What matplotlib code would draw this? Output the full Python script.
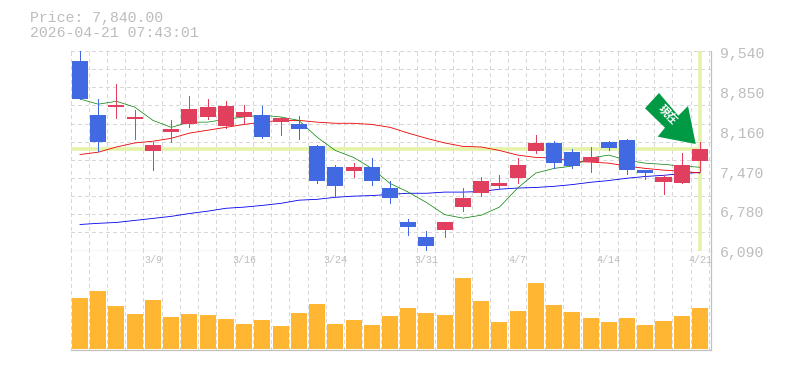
import matplotlib
matplotlib.use("Agg")
import matplotlib.pyplot as plt
from matplotlib.patches import Polygon, Rectangle

plt.rcParams['font.family'] = ['Liberation Mono', 'DejaVu Sans Mono']

W, H = 785, 370
GRAY = '#c0c0c0'
TXT = '#bdbdbd'
GRID = '#d8d8d8'
UP = '#e0405e'
DOWN = '#4169e1'
VOLC = '#ffb733'
HL = '#e4f3a8'
PX = 0.72

current_price = 7840
stamp = '2026-04-21 07:43:01'
opens = [9370, 8430, 8570, 8360, 7810, 8140, 8270, 8400, 8240, 8400, 8430, 8310, 8270, 7890, 7530, 7460, 7530, 7170,
         6590, 6320, 6450, 6850, 7080, 7200, 7340, 7810, 7950, 7790, 7620, 7960, 8000, 7490, 7270, 7250, 7630]
closes = [8710, 7970, 8600, 8400, 7910, 8190, 8530, 8570, 8590, 8480, 8050, 8380, 8190, 7290, 7200, 7530, 7300, 6990,
          6490, 6160, 6590, 6990, 7290, 7250, 7560, 7950, 7600, 7550, 7700, 7860, 7480, 7430, 7360, 7560, 7840]
highs = [9550, 8710, 8970, 8520, 7960, 8340, 8760, 8710, 8670, 8600, 8590, 8400, 8410, 7910, 7560, 7600, 7690, 7290,
         6630, 6420, 6590, 7170, 7360, 7390, 7690, 8080, 7980, 7840, 7880, 7980, 8010, 7490, 7390, 7770, 7960]
lows = [8710, 7810, 8380, 8010, 7490, 7960, 8220, 8360, 8210, 8270, 8030, 8080, 8010, 7250, 7030, 7360, 7230, 6910,
        6350, 6090, 6320, 6770, 7040, 7170, 7250, 7770, 7510, 7510, 7440, 7820, 7410, 7320, 7060, 7250, 7460]
ma_green = [8710, 8620, 8670, 8570, 8340, 8220, 8310, 8310, 8360, 8400, 8430, 8400, 8340, 8050, 7820, 7700, 7510, 7250,
            7100, 6920, 6710, 6650, 6700, 6840, 7170, 7430, 7510, 7550, 7690, 7740, 7650, 7600, 7580, 7550, 7530]
ma_red = [7750, 7790, 7880, 7950, 7980, 8030, 8120, 8170, 8220, 8270, 8310, 8340, 8340, 8310, 8290, 8290, 8270, 8220,
          8120, 8030, 7950, 7890, 7880, 7820, 7740, 7700, 7690, 7630, 7620, 7600, 7550, 7510, 7480, 7460, 7430]
ma_blue = [6540, 6560, 6575, 6610, 6645, 6680, 6730, 6770, 6820, 6840, 6870, 6905, 6960, 6975, 7010, 7030, 7040, 7060,
           7080, 7080, 7100, 7100, 7110, 7150, 7170, 7180, 7200, 7230, 7270, 7300, 7340, 7370, 7390, 7420, 7440]
volumes = [51, 58, 43, 35, 49, 32, 35, 34, 30, 25, 29, 23, 36, 45, 25, 29, 24, 33, 41,
           36, 34, 71, 48, 27, 38, 66, 44, 37, 31, 27, 31, 24, 28, 33, 41]
price_ticks = [6090, 6780, 7470, 8160, 8850, 9540]
date_ticks = {4: '3/9', 9: '3/16', 14: '3/24', 19: '3/31', 24: '4/7', 29: '4/14', 34: '4/21'}

fig = plt.figure(figsize=(W / 100, H / 100), dpi=100, facecolor='white')


def axbox(l, t, r, b):
    return [l / W, 1 - b / H, (r - l) / W, (b - t) / H]


L, R = 70.5, 710.5
step = 18.235
xlim = ((L - 80) / step, (R - 80) / step)

ax = fig.add_axes(axbox(L, 51, R, 250.5))
axv = fig.add_axes(axbox(L, 250.5, R, 350))
for a in (ax, axv):
    a.set_xlim(*xlim)
    a.set_facecolor('white')
    a.tick_params(left=False, right=False, top=False, bottom=False, labelleft=False, labelbottom=False)
    for s in a.spines.values():
        s.set_visible(False)
    for s in ('bottom', 'right'):
        a.spines[s].set_visible(True)
        a.spines[s].set_color(GRAY)
        a.spines[s].set_linewidth(0.9)
    for k in range(36):
        a.axvline(k - 0.52, color=GRID, lw=PX, ls=(0, (3, 3)), zorder=0, antialiased=False)

ax.set_ylim(price_ticks[0], price_ticks[-1])
gstep = (price_ticks[-1] - price_ticks[0]) / 11
for k in range(1, 12):
    ax.axhline(price_ticks[0] + k * gstep, color=GRID, lw=PX, ls=(0, (3, 3)), zorder=0, antialiased=False)

ax.plot([xlim[0], 34], [current_price] * 2, color=HL, lw=2.6, zorder=1, solid_capstyle='butt')
ax.axvline(34, color=HL, lw=2.6, zorder=1)

xs = list(range(len(opens)))
for i, (o, c, h, l) in enumerate(zip(opens, closes, highs, lows)):
    col = UP if c >= o else DOWN
    ax.plot([i, i], [l, h], color=col, lw=PX, zorder=3, solid_capstyle='butt', antialiased=False)
    ax.add_patch(Rectangle((i - 0.44, min(o, c)), 0.88, abs(c - o), facecolor=col, edgecolor='none', zorder=3,
                           antialiased=False))

ax.plot(xs, ma_blue, color='#0000ee', lw=0.6, zorder=2, antialiased=True)
ax.plot(xs, ma_red, color='#ee0000', lw=0.6, zorder=2, antialiased=True)
ax.plot(xs, ma_green, color='#008000', lw=0.5, zorder=2, antialiased=True)

axv.set_ylim(-1.5, 98)
axv.bar(xs, volumes, width=0.88, color=VOLC, zorder=2, antialiased=False)

tr = ax.get_yaxis_transform()
for p in price_ticks:
    ax.text(1.0145, p - 50, f'{p:,}', transform=tr, color=TXT, fontsize=10.7, va='center', ha='left', clip_on=False)
trv = axv.get_xaxis_transform()
for i, s in date_ticks.items():
    axv.text(i, 0.9, s, transform=trv, color=TXT, fontsize=7.2, ha='center', va='center')

fig.text(30 / W, 1 - 18 / H, f'Price: {current_price:,.2f}', color=TXT, fontsize=10.7, va='center', ha='left')
fig.text(30 / W, 1 - 33 / H, stamp, color=TXT, fontsize=10.7, va='center', ha='left')

arrow_px = [(659, 93), (645, 108.3), (665, 127.7), (657.7, 136.7), (695.7, 144), (688, 106), (678.3, 115.7)]
fig.add_artist(Polygon([(x / W, 1 - y / H) for x, y in arrow_px], closed=True, facecolor='#009944',
                       edgecolor='none', transform=fig.transFigure, zorder=6))
fig.text(667.5 / W, 1 - 114.5 / H, '現在', color='white', fontsize=8, rotation=-45, ha='center', va='center',
         family=['Noto Sans CJK JP', 'DejaVu Sans'], weight='bold', zorder=7)

fig.savefig('out.png', dpi=100)
